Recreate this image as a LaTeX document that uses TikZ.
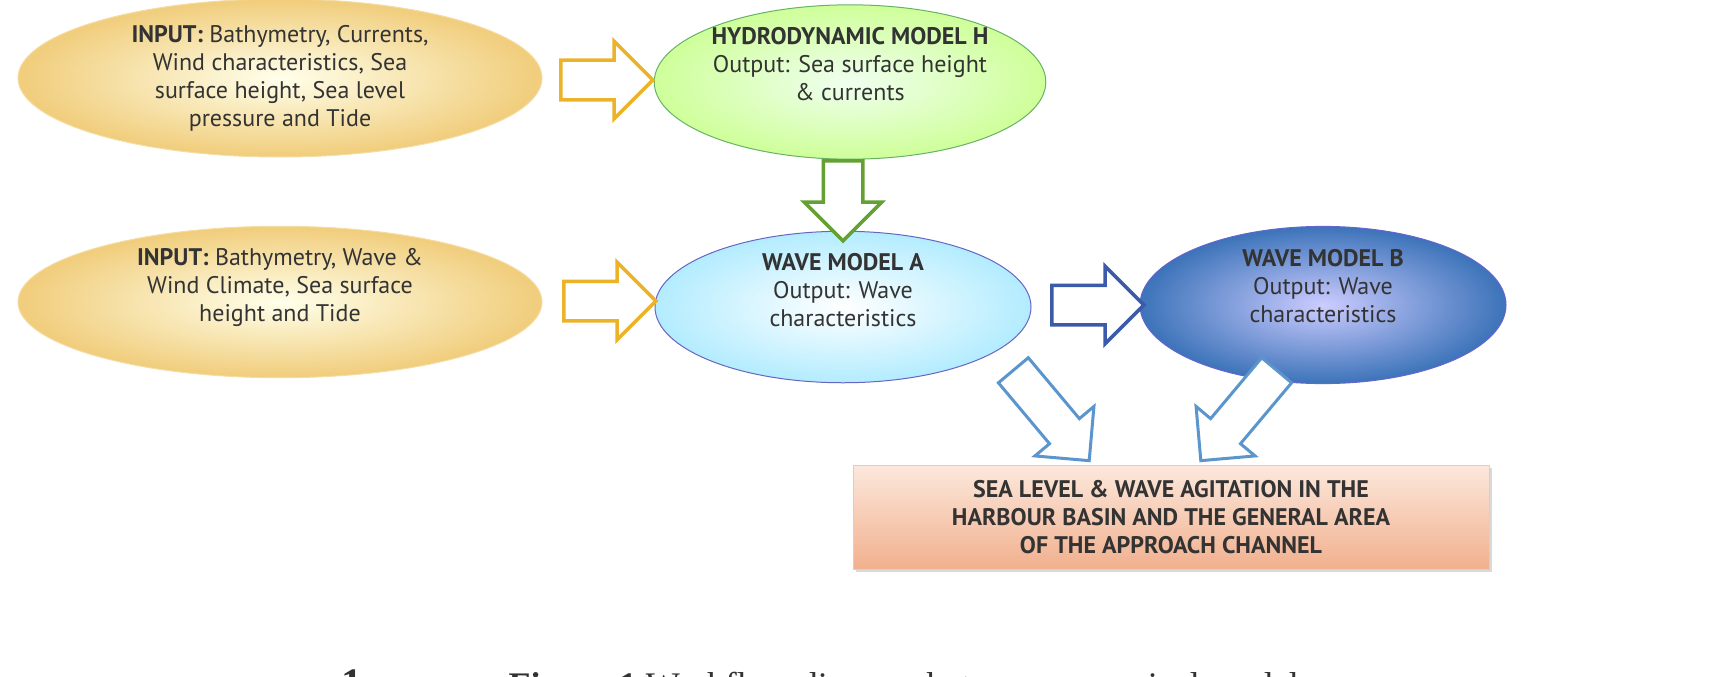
\documentclass[tikz,border=0pt]{standalone}
\usepackage{fontspec}
\setmainfont{PT Sans}
\newfontfamily\capfont{Liberation Serif}
\usetikzlibrary{shapes.geometric,shapes.arrows,shadows}
\definecolor{yedge}{RGB}{238,196,100}
\definecolor{yarrow}{RGB}{236,178,40}
\definecolor{garrow}{RGB}{100,160,50}
\definecolor{barrow}{RGB}{60,90,170}
\definecolor{larrow}{RGB}{90,150,205}
\begin{document}
\begin{tikzpicture}[x=1pt,y=-1pt,
  every node/.style={font=\fontsize{24}{28}\selectfont, text=black!80, align=center},
  ell/.style={ellipse, inner sep=0pt, draw=#1!60!white, line width=1pt},
  blk/.style={single arrow, draw=#1, fill=white, line width=3.5pt, inner sep=0pt,
    text height=18pt, text depth=18pt, text width=0pt,
    single arrow head extend=19pt, minimum height=92pt}]
\useasboundingbox (0,0) rectangle (1719,677);
\node[ell=yedge, minimum width=524pt, minimum height=158pt, inner color=yellow!8, outer color=yedge!85] (in1) at (280,78)
  {\textbf{INPUT:} Bathymetry, Currents,\\Wind characteristics, Sea\\surface height, Sea level\\pressure and Tide};
\node[ell=yedge, minimum width=524pt, minimum height=128pt, inner color=yellow!8, outer color=yedge!85] (in2) at (280,302)
  {\textbf{INPUT:} Bathymetry, Wave \&\\Wind Climate, Sea surface\\height and Tide\\[6pt]};
\node[ell=green!50!black, minimum width=390pt, minimum height=134pt, inner color=green!6, outer color=green!30!lime!40!white] (hyd) at (850,82)
  {\textbf{HYDRODYNAMIC MODEL H}\\Output: Sea surface height\\\& currents\\[8pt]};
\node[ell=blue!60!black, minimum width=376pt, minimum height=136pt, inner color=white, outer color=blue!25!cyan!30!white] (wa) at (843,307)
  {\textbf{WAVE MODEL A}\\Output: Wave\\characteristics\\[6pt]};
\node[ell=blue!70!black, minimum width=366pt, minimum height=132pt, inner color=blue!20!white, outer color={rgb,255:red,60;green,115;blue,185}] (wb) at (1323,305)
  {\textbf{WAVE MODEL B}\\Output: Wave\\characteristics\\[10pt]};
\node[draw=brown!40, minimum width=636pt, minimum height=104pt, top color={rgb,255:red,252;green,232;blue,220}, bottom color={rgb,255:red,241;green,176;blue,142}, drop shadow={opacity=0.3}] (res) at (1171,517)
  {\textbf{SEA LEVEL \& WAVE AGITATION IN THE}\\\textbf{HARBOUR BASIN AND THE GENERAL AREA}\\\textbf{OF THE APPROACH CHANNEL}};
\node[blk=yarrow] (a1) at (597,80) {};
\node[blk=yarrow] (a2) at (600,301) {};
\node[blk=garrow, rotate=-90, minimum height=80pt] (a3) at (843,191) {};
\node[blk=barrow] (a4) at (1088,305) {};
\node[blk=larrow, line width=3pt, rotate=-50, minimum height=118pt] (a5) at (1045,408) {};
\node[blk=larrow, line width=3pt, rotate=-130, minimum height=118pt] (a6) at (1245,408) {};
\node[font=\capfont\fontsize{42}{46}\selectfont\bfseries, anchor=base] (n1) at (352,697) {1};
\node[font=\capfont\fontsize{36}{40}\selectfont, anchor=base west] (cap) at (505,697) {\textbf{Figure 1} Workflow diagram between numerical models};
\end{tikzpicture}
\end{document}
